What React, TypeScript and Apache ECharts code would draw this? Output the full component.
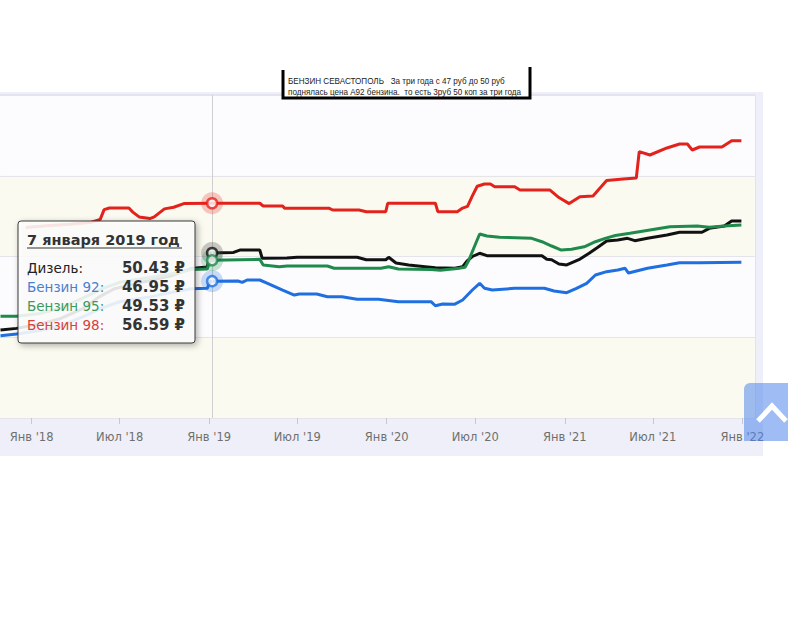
import React, { useEffect, useRef } from "react";
import * as echarts from "echarts";

const tickDates = ["2018-01-01","2018-07-01","2019-01-01","2019-07-01","2020-01-01","2020-07-01","2021-01-01","2021-07-01","2022-01-01"];
const tickLabels = ["Янв '18","Июл '18","Янв '19","Июл '19","Янв '20","Июл '20","Янв '21","Июл '21","Янв '22"];

const seriesNames = ["Дизель", "Бензин 92", "Бензин 95", "Бензин 98"];

const diesel: [string, number][] = [
  ["2017-10-29",40.9],["2017-12-01",41.1],["2018-01-15",41.6],["2018-03-01",42.3],["2018-04-15",43.5],["2018-05-20",45.0],["2018-06-20",46.0],["2018-08-15",46.8],["2018-10-15",47.6],["2018-11-25",48.5],["2018-12-28",48.7],["2019-01-03",50.43],["2019-02-20",50.5],["2019-03-05",50.8],["2019-04-15",50.8],["2019-04-20",49.78],["2019-06-10",49.8],["2019-07-01",49.9],["2019-11-01",49.9],["2019-11-20",49.6],["2019-12-30",49.6],["2020-01-05",49.9],["2020-01-20",49.2],["2020-02-15",48.95],["2020-03-20",48.74],["2020-04-10",48.6],["2020-05-20",48.54],["2020-06-05",48.74],["2020-06-15",49.5],["2020-06-25",50.0],["2020-07-10",50.4],["2020-07-25",50.1],["2020-11-15",50.1],["2020-11-25",49.65],["2020-12-05",49.6],["2020-12-20",49.07],["2021-01-05",48.95],["2021-01-30",49.6],["2021-02-20",50.4],["2021-03-10",51.14],["2021-03-28",51.92],["2021-04-20",52.04],["2021-05-10",52.25],["2021-05-25",51.96],["2021-06-20",52.25],["2021-07-30",52.66],["2021-08-25",53.0],["2021-10-10",53.0],["2021-10-25",53.49],["2021-11-25",53.78],["2021-12-10",54.4],["2021-12-30",54.4]
];

const gas92: [string, number][] = [
  ["2017-10-29",40.2],["2017-12-01",40.4],["2018-01-15",40.8],["2018-03-01",41.4],["2018-04-15",42.5],["2018-05-25",43.6],["2018-07-01",44.4],["2018-09-01",45.0],["2018-10-20",45.6],["2018-11-25",46.0],["2018-12-28",46.06],["2019-01-03",46.95],["2019-03-01",46.97],["2019-03-10",46.8],["2019-03-20",47.09],["2019-04-15",47.09],["2019-05-01",46.68],["2019-06-01",45.85],["2019-06-25",45.23],["2019-07-05",45.36],["2019-08-10",45.36],["2019-09-01",45.02],["2019-10-01",45.02],["2019-11-01",44.7],["2019-12-15",44.7],["2020-01-25",44.4],["2020-04-01",44.4],["2020-04-10",43.9],["2020-04-25",44.12],["2020-05-20",44.1],["2020-06-05",44.61],["2020-06-25",45.85],["2020-07-10",46.68],["2020-07-20",46.06],["2020-08-05",45.85],["2020-09-20",46.06],["2020-11-20",46.06],["2020-12-10",45.73],["2021-01-05",45.52],["2021-01-25",46.06],["2021-02-15",46.68],["2021-03-05",47.71],["2021-03-28",48.12],["2021-04-20",48.33],["2021-05-05",48.54],["2021-05-12",47.95],["2021-06-20",48.54],["2021-07-30",48.95],["2021-08-25",49.23],["2021-10-05",49.23],["2021-12-30",49.28]
];

const gas95: [string, number][] = [
  ["2017-10-29",42.6],["2017-12-01",42.6],["2018-01-15",42.9],["2018-03-01",43.6],["2018-04-15",44.8],["2018-05-25",46.0],["2018-07-01",46.8],["2018-09-01",47.4],["2018-10-20",47.9],["2018-11-25",48.4],["2018-12-28",48.45],["2019-01-03",49.53],["2019-04-15",49.65],["2019-04-22",48.95],["2019-05-25",48.74],["2019-06-10",48.82],["2019-09-01",48.82],["2019-09-15",48.54],["2019-12-20",48.54],["2020-01-05",48.74],["2020-01-25",48.45],["2020-04-01",48.4],["2020-04-20",48.3],["2020-05-25",48.5],["2020-06-10",48.66],["2020-06-18",49.57],["2020-06-28",51.05],["2020-07-10",52.79],["2020-07-25",52.54],["2020-08-20",52.38],["2020-10-25",52.25],["2020-11-15",51.83],["2020-12-05",51.3],["2020-12-25",50.8],["2021-01-15",50.89],["2021-02-10",51.2],["2021-03-05",51.83],["2021-03-25",52.25],["2021-04-15",52.6],["2021-05-15",52.87],["2021-06-25",53.28],["2021-08-05",53.69],["2021-09-30",53.78],["2021-10-25",53.62],["2021-11-25",53.78],["2021-12-30",53.9]
];

const gas98: [string, number][] = [
  ["2017-12-20",53.6],["2018-02-01",53.8],["2018-03-20",54.0],["2018-05-01",54.2],["2018-05-22",54.6],["2018-05-30",55.8],["2018-06-10",56.0],["2018-07-20",56.0],["2018-07-28",55.5],["2018-08-10",54.9],["2018-09-01",54.7],["2018-09-10",54.9],["2018-10-01",55.9],["2018-10-20",56.1],["2018-11-10",56.55],["2019-01-07",56.59],["2019-04-15",56.59],["2019-04-22",56.25],["2019-06-01",56.25],["2019-06-05",55.97],["2019-09-05",55.97],["2019-09-12",55.76],["2019-11-05",55.76],["2019-11-20",55.55],["2019-12-30",55.55],["2020-01-03",56.59],["2020-04-10",56.59],["2020-04-15",55.55],["2020-05-25",55.55],["2020-06-05",56.0],["2020-06-15",56.2],["2020-06-25",57.5],["2020-07-05",58.7],["2020-07-20",58.98],["2020-08-01",58.98],["2020-08-10",58.64],["2020-09-20",58.64],["2020-10-01",58.24],["2020-12-01",58.24],["2020-12-20",57.3],["2021-01-10",56.55],["2021-02-01",57.41],["2021-02-28",57.5],["2021-03-28",59.4],["2021-05-01",59.6],["2021-05-28",59.72],["2021-06-03",62.98],["2021-06-25",62.57],["2021-07-30",63.44],["2021-08-25",63.93],["2021-09-10",63.93],["2021-09-20",63.19],["2021-10-05",63.56],["2021-11-20",63.56],["2021-12-10",64.34],["2021-12-30",64.34]
];

const axisStart = "2017-10-28";
const axisEnd = "2022-01-27";
const tipDate = "2019-01-07";
const tipTitle = "7 января 2019 год";
const tipValues = [50.43, 46.95, 49.53, 56.59];

const captionLines = [
  "БЕНЗИН СЕВАСТОПОЛЬ   За три года с 47 руб до 50 руб",
  "поднялась цена А92 бензина.  то есть 3руб 50 коп за три года",
];

const lineColors = ["#111111", "#1f6fe0", "#1f8a4c", "#e4221c"];
const haloColors = ["rgba(60,60,60,0.35)", "rgba(31,111,224,0.3)", "rgba(31,138,76,0.3)", "rgba(228,34,28,0.3)"];
const tipLabelColors = ["#222222", "#4a7fd0", "#3b9a5c", "#d8413a"];

const ts = (d: string) => +echarts.time.parse(d);

export default function App() {
  const ref = useRef<HTMLDivElement>(null);
  useEffect(() => {
    document.body.style.margin = "0";
    const chart = echarts.init(ref.current!, null, { renderer: "svg" });
    const tickValues = tickDates.map(ts);
    const allSeries = [diesel, gas92, gas95, gas98];
    const lineOrder = [1, 0, 2, 3];
    const series: any[] = lineOrder.map((i, k) => ({
      type: "line",
      name: seriesNames[i],
      data: allSeries[i].map(([d, v]) => [ts(d), v]),
      showSymbol: false,
      symbol: "none",
      lineStyle: { color: lineColors[i], width: 3 },
      itemStyle: { color: lineColors[i] },
      z: 3 + k,
      markLine: k === 0 ? {
        silent: true,
        symbol: ["none", "none"],
        label: { show: false },
        lineStyle: { color: "#cfcfcf", width: 1, type: "solid" },
        data: [{ xAxis: ts(tipDate) }],
      } : undefined,
    }));
    tipValues.forEach((v, i) => {
      series.push({
        type: "scatter",
        data: [[ts(tipDate), v]],
        symbolSize: 22,
        itemStyle: { color: haloColors[i] },
        z: 8,
        silent: true,
      });
      series.push({
        type: "scatter",
        data: [[ts(tipDate), v]],
        symbolSize: 10,
        itemStyle: { color: "#ffffff", borderColor: lineColors[i], borderWidth: 2.5 },
        z: 9,
        silent: true,
      });
    });

    const tipX = 18, tipY = 221;
    const rowY = [268, 287, 306, 325];
    const capFont = "9px 'Liberation Sans', Arial";
    const graphic: any[] = [
      { type: "rect", z: -20, shape: { x: 0, y: 92, width: 763, height: 364 }, style: { fill: "#eeeff8" } },
      { type: "rect", z: 49, shape: { x: 284, y: 70, width: 245, height: 27 }, style: { fill: "#ffffff" } },
      { type: "polyline", z: 50, shape: { points: [[283, 70], [283, 98], [530, 98], [530, 67]] }, style: { stroke: "#000", lineWidth: 3, fill: null } },
      { type: "text", z: 51, x: 288, y: 81, scaleX: 0.9, style: { text: captionLines[0], font: capFont, fill: "#222", verticalAlign: "middle" } },
      { type: "text", z: 51, x: 288, y: 92, scaleX: 0.9, style: { text: captionLines[1], font: capFont, fill: "#222", verticalAlign: "middle" } },
      { type: "rect", z: 60, shape: { x: tipX, y: tipY, width: 177, height: 122, r: 3 }, style: { fill: "rgba(255,255,255,0.86)", stroke: "#3a3a3a", lineWidth: 1, shadowBlur: 6, shadowColor: "rgba(0,0,0,0.35)", shadowOffsetX: 2, shadowOffsetY: 2 } },
      { type: "text", z: 61, x: 27, y: 240, style: { text: tipTitle, font: "bold 14.5px 'DejaVu Sans'", fill: "#333", verticalAlign: "middle" } },
      { type: "line", z: 61, shape: { x1: 27, y1: 248, x2: 182, y2: 248 }, style: { stroke: "#333", lineWidth: 1 } },
      { type: "rect", z: 70, shape: { x: 744, y: 383, width: 44, height: 58, r: [6, 0, 0, 0] }, style: { fill: "rgba(80,135,235,0.55)" } },
      { type: "polyline", z: 71, shape: { points: [[758, 421], [772, 406], [786, 421]] }, style: { stroke: "#ffffff", lineWidth: 5, fill: null } },
    ];
    seriesNames.forEach((n, i) => {
      graphic.push({ type: "text", z: 61, x: 27, y: rowY[i], style: { text: n + ":", font: "13.5px 'DejaVu Sans'", fill: tipLabelColors[i], verticalAlign: "middle" } });
      graphic.push({ type: "text", z: 61, x: 185, y: rowY[i], style: { text: tipValues[i].toFixed(2) + " ₽", font: "bold 15px 'DejaVu Sans'", fill: "#333", align: "right", verticalAlign: "middle" } });
    });

    chart.setOption({
      animation: false,
      grid: { left: 0, right: 45, top: 95, bottom: 222, show: true, borderColor: "#d6d7e2", borderWidth: 1, backgroundColor: "rgba(0,0,0,0)" },
      xAxis: {
        type: "value",
        min: ts(axisStart),
        max: ts(axisEnd),
        axisLine: { show: false },
        splitLine: { show: false },
        axisTick: { show: true, customValues: tickValues, length: 6, lineStyle: { color: "#c6c7d4" } },
        axisLabel: {
          customValues: tickValues,
          formatter: (v: number) => {
            const idx = tickValues.findIndex((t) => Math.abs(t - v) < 86400000);
            return idx >= 0 ? tickLabels[idx] : "";
          },
          color: "#6f6f6f",
          fontFamily: "DejaVu Sans",
          fontSize: 11.5,
          margin: 13,
        },
      },
      yAxis: {
        type: "value",
        min: 30,
        max: 70,
        interval: 10,
        axisLabel: { show: false },
        axisLine: { show: false },
        axisTick: { show: false },
        splitLine: { lineStyle: { color: "#e4e4ea" } },
        splitArea: { show: true, areaStyle: { color: ["#fbfaf0", "#fcfcfe"] } },
      },
      series,
      graphic,
    });
    return () => chart.dispose();
  }, []);
  return <div ref={ref} style={{ position: "absolute", left: 0, top: 0, width: 800, height: 640 }} />;
}
